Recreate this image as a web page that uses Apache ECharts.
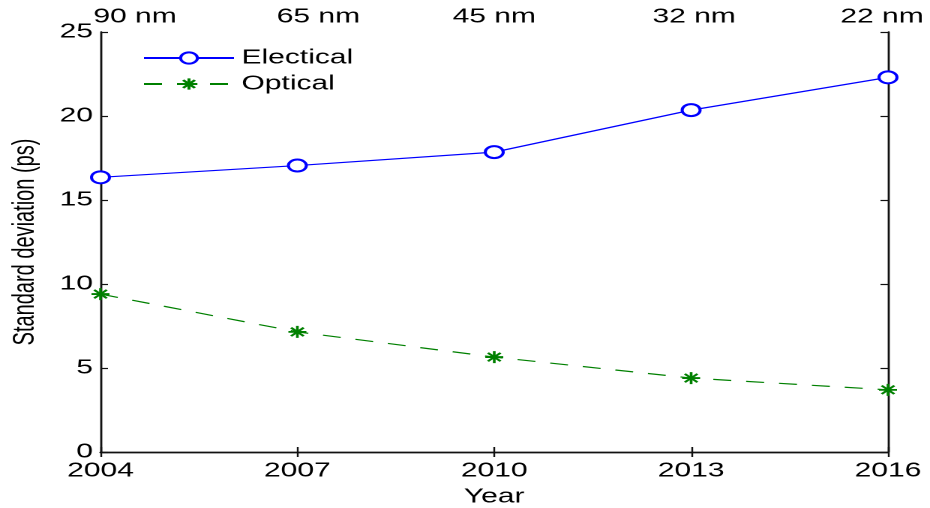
<!DOCTYPE html>
<html>
<head>
    <meta charset="utf-8">
    <script src="https://cdn.jsdelivr.net/npm/echarts@6/dist/echarts.min.js"></script>
    <style>
        html, body { margin: 0; padding: 0; background: #fff; overflow: hidden; }
        /* the original figure is stretched sideways, so draw narrow and stretch */
        #main { width: 620px; height: 508px; transform: scaleX(1.5); transform-origin: 0 0; }
    </style>
</head>
<body>
<div id="main"></div>

<script type="text/javascript">
    var years = [2004, 2007, 2010, 2013, 2016];
    var nodes = ['90 nm', '65 nm', '45 nm', '32 nm', '22 nm'];
    var electrical = [16.35, 17.05, 17.85, 20.35, 22.3];
    var optical = [9.4, 7.15, 5.65, 4.4, 3.7];

    var font = 'Liberation Sans, Arial, sans-serif';

    function pairs(vals) {
        return years.map(function (y, i) { return [y, vals[i]]; });
    }

    // shift of each top label (px) as in the original picture
    var topShift = [23, 14, 0, 2, -4];
    var topRich = {};
    topShift.forEach(function (d, i) {
        topRich['t' + i] = {
            fontSize: 20, fontFamily: font, color: '#000',
            padding: d >= 0 ? [0, 0, 0, 2 * d] : [0, -2 * d, 0, 0]
        };
    });

    var dom = document.getElementById('main');
    var myChart = echarts.init(dom, null, {devicePixelRatio: 2});

    var axisLine = {show: true, lineStyle: {color: '#111', width: 1.4}};
    var tick = {show: true, inside: true, length: 5, lineStyle: {color: '#111', width: 1.2}};

    var option = {
        animation: false,
        backgroundColor: '#fff',
        grid: {left: 67, right: 28, top: 32, bottom: 56, outerBoundsMode: 'none'},
        legend: {
            left: 90, top: 43, orient: 'vertical',
            itemWidth: 60, itemHeight: 14, itemGap: 6,
            textStyle: {fontSize: 20, fontFamily: font, color: '#000'},
            data: ['Electical', 'Optical']
        },
        xAxis: [{
            type: 'value', min: 2004, max: 2016, interval: 3,
            position: 'bottom',
            name: 'Year', nameLocation: 'middle', nameGap: 35,
            nameTextStyle: {fontSize: 20, fontFamily: font, color: '#000'},
            axisLine: axisLine, axisTick: tick, splitLine: {show: false},
            axisLabel: {fontSize: 20, fontFamily: font, color: '#000', margin: 9,
                showMinLabel: true, showMaxLabel: true,
                formatter: function (v) { return String(v); }}
        }, {
            type: 'value', min: 2004, max: 2016, interval: 3,
            position: 'top',
            axisLine: axisLine, axisTick: tick, splitLine: {show: false},
            axisLabel: {
                margin: 5, showMinLabel: true, showMaxLabel: true,
                rich: topRich,
                formatter: function (v) {
                    var i = years.indexOf(v);
                    return i < 0 ? '' : '{t' + i + '|' + nodes[i] + '}';
                }
            }
        }],
        yAxis: [{
            type: 'value', min: 0, max: 25, interval: 5,
            position: 'left',
            name: 'Standard deviation (ps)', nameLocation: 'middle', nameGap: 40,
            nameTextStyle: {fontSize: 20, fontFamily: font, color: '#000'},
            axisLine: axisLine, axisTick: tick, splitLine: {show: false},
            axisLabel: {fontSize: 20, fontFamily: font, color: '#000', margin: 5}
        }, {
            type: 'value', min: 0, max: 25, interval: 5,
            position: 'right',
            axisLine: axisLine, axisTick: tick, splitLine: {show: false},
            axisLabel: {show: false}
        }],
        series: [{
            name: 'Electical',
            type: 'line',
            data: pairs(electrical),
            symbol: 'emptyCircle',
            symbolSize: 12,
            lineStyle: {color: '#0000ff', width: 1.2},
            itemStyle: {color: '#0000ff', borderColor: '#0000ff', borderWidth: 1.3}
        }, {
            name: 'Optical',
            type: 'line',
            data: pairs(optical),
            symbol: 'path://M50 0L50 100M0 50L100 50M15 15L85 85M85 15L15 85',
            symbolSize: 12,
            lineStyle: {color: '#008000', width: 1.2, type: [12, 10]},
            itemStyle: {color: '#008000', borderColor: '#008000', borderWidth: 1.8}
        }]
    };

    myChart.setOption(option);
</script>
</body>
</html>
